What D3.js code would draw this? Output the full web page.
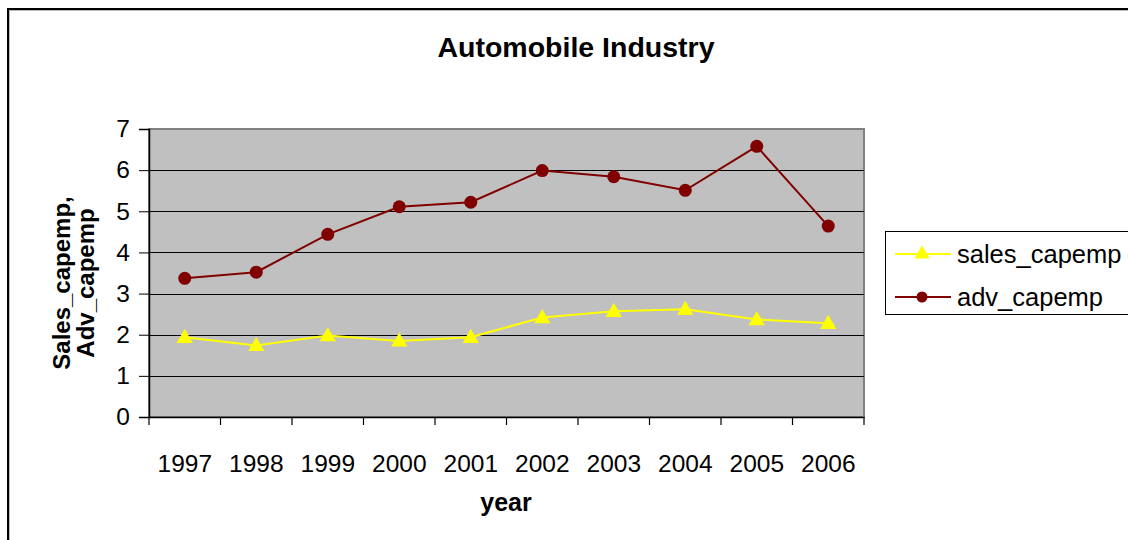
<!DOCTYPE html>
<html>
<head>
<meta charset="utf-8">
<script src="https://cdn.jsdelivr.net/npm/d3@7"></script>
<style>
  html, body { margin: 0; padding: 0; background: #fff; }
  svg { display: block; font-family: "Liberation Sans", Arial, sans-serif; }
</style>
</head>
<body>
<svg id="chart" width="1128" height="540"></svg>
<script>
const years = ["1997", "1998", "1999", "2000", "2001", "2002", "2003", "2004", "2005", "2006"];
const salesCapemp = [1.94, 1.74, 1.98, 1.85, 1.94, 2.42, 2.57, 2.62, 2.37, 2.28];
const advCapemp = [3.37, 3.52, 4.44, 5.11, 5.22, 5.99, 5.84, 5.51, 6.58, 4.64];
const yTicks = [0, 1, 2, 3, 4, 5, 6, 7];
const seriesNames = ["sales_capemp", "adv_capemp"];

const svg = d3.select("#chart");

// outer chart frame with soft shadow
svg.append("rect").attr("x", 9).attr("y", 10).attr("width", 1140).attr("height", 560)
  .attr("fill", "none").attr("stroke", "#bbb").attr("stroke-width", 2);
svg.append("rect").attr("x", 8).attr("y", 9).attr("width", 1140).attr("height", 560)
  .attr("fill", "none").attr("stroke", "#000").attr("stroke-width", 2);

const plot = { left: 149, top: 129, right: 864, bottom: 417 };

const x = d3.scaleBand().domain(years).range([plot.left, plot.right]);
const y = d3.scaleLinear().domain([0, 7]).range([plot.bottom, plot.top]);
const cx = d => x(d) + x.bandwidth() / 2;

// plot background
svg.append("rect")
  .attr("x", plot.left).attr("y", plot.top)
  .attr("width", plot.right - plot.left).attr("height", plot.bottom - plot.top)
  .attr("fill", "#c0c0c0").attr("stroke", "#808080").attr("stroke-width", 2);

// horizontal gridlines
svg.append("g").selectAll("line").data(yTicks.filter(v => v > 0 && v < 7)).join("line")
  .attr("x1", plot.left).attr("x2", plot.right)
  .attr("y1", d => Math.round(y(d)) + 0.5).attr("y2", d => Math.round(y(d)) + 0.5)
  .attr("stroke", "#000").attr("stroke-width", 1);

// y axis
const yAxis = d3.axisLeft(y).tickValues(yTicks).tickSize(10).tickPadding(9).tickFormat(d3.format("d"));
const gy = svg.append("g").attr("transform", `translate(${plot.left},0)`).call(yAxis);
gy.select(".domain").attr("stroke", "#000").attr("stroke-width", 1.5);
gy.selectAll(".tick line").attr("stroke", "#000");
gy.selectAll(".tick text").attr("font-size", 24.5).attr("fill", "#000")
  .attr("font-family", "Liberation Sans, Arial, sans-serif");

// x axis: ticks sit between categories
const xAxis = d3.axisBottom(x).tickSize(0).tickPadding(38);
const gx = svg.append("g").attr("transform", `translate(0,${plot.bottom})`).call(xAxis);
gx.select(".domain").attr("stroke", "#000").attr("stroke-width", 1.5);
gx.selectAll(".tick text").attr("font-size", 24.5).attr("fill", "#000")
  .attr("font-family", "Liberation Sans, Arial, sans-serif");
const boundaries = years.map(d => x(d)).concat([plot.right]);
svg.append("g").selectAll("line").data(boundaries).join("line")
  .attr("x1", d => d).attr("x2", d => d)
  .attr("y1", plot.bottom).attr("y2", plot.bottom + 8)
  .attr("stroke", "#000").attr("stroke-width", 1.2);

// series lines
const line = d3.line().x((d, i) => cx(years[i])).y(d => y(d));
svg.append("path").datum(salesCapemp).attr("d", line)
  .attr("fill", "none").attr("stroke", "#ffff00").attr("stroke-width", 2);
svg.append("path").datum(advCapemp).attr("d", line)
  .attr("fill", "none").attr("stroke", "#800000").attr("stroke-width", 2);

// markers
const tri = d3.symbol().type(d3.symbolTriangle).size(115);
svg.append("g").selectAll("path").data(salesCapemp).join("path")
  .attr("d", tri)
  .attr("transform", (d, i) => `translate(${cx(years[i])},${y(d) + 1})`)
  .attr("fill", "#ffff00");
svg.append("g").selectAll("circle").data(advCapemp).join("circle")
  .attr("cx", (d, i) => cx(years[i])).attr("cy", d => y(d)).attr("r", 6.5)
  .attr("fill", "#800000");

// title
svg.append("text").attr("x", 576).attr("y", 57).attr("text-anchor", "middle")
  .attr("font-size", 28.5).attr("font-weight", "bold").text("Automobile Industry");

// axis titles
svg.append("text").attr("x", 506).attr("y", 511).attr("text-anchor", "middle")
  .attr("font-size", 25).attr("font-weight", "bold").text("year");
const yt = svg.append("text").attr("transform", "translate(0,283) rotate(-90)")
  .attr("text-anchor", "middle").attr("font-size", 24).attr("font-weight", "bold");
yt.append("tspan").attr("x", 0).attr("y", 70).text("Sales_capemp,");
yt.append("tspan").attr("x", 0).attr("y", 94).text("Adv_capemp");

// legend
const lg = svg.append("g");
lg.append("rect").attr("x", 885.5).attr("y", 231.5).attr("width", 260).attr("height", 83)
  .attr("fill", "#fff").attr("stroke", "#000").attr("stroke-width", 1);
const rows = [
  { name: seriesNames[0], color: "#ffff00", y: 254, marker: "tri" },
  { name: seriesNames[1], color: "#800000", y: 297, marker: "circle" }
];
rows.forEach(r => {
  lg.append("line").attr("x1", 895).attr("x2", 951).attr("y1", r.y).attr("y2", r.y)
    .attr("stroke", r.color).attr("stroke-width", 2);
  if (r.marker === "tri") {
    lg.append("path").attr("d", d3.symbol().type(d3.symbolTriangle).size(100))
      .attr("transform", `translate(922,${r.y})`).attr("fill", r.color);
  } else {
    lg.append("circle").attr("cx", 922).attr("cy", r.y).attr("r", 5.5).attr("fill", r.color);
  }
  lg.append("text").attr("x", 957).attr("y", r.y + 9).attr("font-size", 25.5).text(r.name);
});
</script>
</body>
</html>
